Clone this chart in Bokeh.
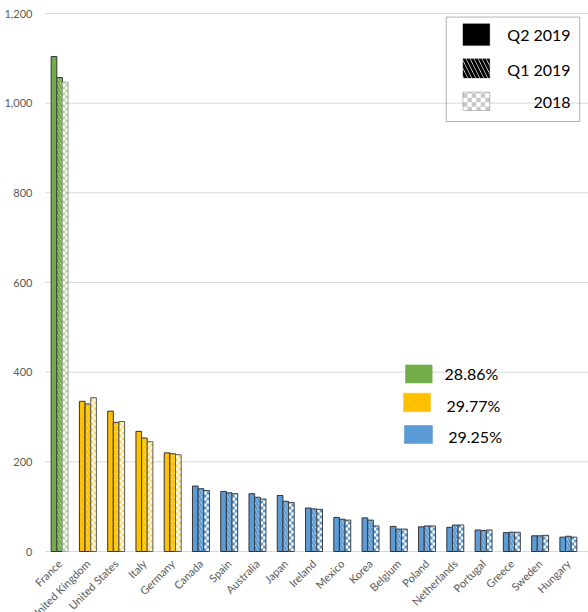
from bokeh.plotting import figure
from bokeh.models import (ColumnDataSource, FixedTicker, NumeralTickFormatter,
                          BoxAnnotation, Label, Range1d)
from bokeh.transform import dodge
from bokeh.embed import file_html
from bokeh.resources import INLINE
from math import pi

# ---------------- data ----------------
countries = ["France", "United Kingdom", "United States", "Italy", "Germany", "Canada",
             "Spain", "Australia", "Japan", "Ireland", "Mexico", "Korea", "Belgium",
             "Poland", "Netherlands", "Portugal", "Greece", "Sweden", "Hungary"]
q2_2019 = [1104, 335, 313, 268, 220, 146, 134, 129, 125, 97, 76, 75, 56, 55, 54, 48, 42, 35, 32]
q1_2019 = [1057, 329, 288, 253, 218, 140, 131, 121, 112, 95, 72, 70, 50, 57, 59, 47, 43, 35, 34]
y2018 = [1047, 343, 290, 245, 216, 136, 129, 117, 109, 94, 70, 57, 50, 57, 59, 48, 43, 36, 32]
tier = ["A", "B", "B", "B", "B", "C", "C", "C", "C", "C", "C", "C", "C", "C", "C", "C", "C", "C", "C"]
tier_names = ["A", "B", "C"]
tier_shares = ["28.86%", "29.77%", "29.25%"]
series_names = ["Q2 2019", "Q1 2019", "2018"]
y_ticks = [0, 200, 400, 600, 800, 1000, 1200]
y_max = 1200

# ---------------- styles / layout ----------------
tier_color = {"A": "#70AD47", "B": "#FFC000", "C": "#5B9BD5"}
tier_light = {"A": "#B4D69C", "B": "#FFD966", "C": "#5B9BD5"}
tier_edge18 = {"A": "#A6A6A6", "B": "#595959", "C": "#404040"}
FONT = "Lato"
GRAY = "#595959"
EDGE = "#333333"
GRID = "#D9D9D9"

WIDTH, HEIGHT = 588, 612
PAD_L, PAD_R, PAD_T, PAD_B = 45, 6, 13, 61      # plotting area inside the canvas
n = len(countries)
ppx = (WIDTH - PAD_L - PAD_R) / n               # pixels per category
ppy = (HEIGHT - PAD_T - PAD_B) / y_max          # pixels per value unit
x_lo, x_hi = -PAD_L / ppx, n + PAD_R / ppx
y_lo, y_hi = -PAD_B / ppy, y_max + PAD_T / ppy

centers = [i + 0.5 for i in range(n)]           # category slots on the x scale
src = ColumnDataSource(dict(
    xc=centers, country=countries, q2=q2_2019, q1=q1_2019, y18=y2018,
    col=[tier_color[t] for t in tier],
    light=[tier_light[t] for t in tier],
    edge18=[tier_edge18[t] for t in tier],
))

p = figure(x_range=Range1d(x_lo, x_hi), y_range=Range1d(y_lo, y_hi),
           width=WIDTH, height=HEIGHT, output_backend="svg", toolbar_location=None,
           min_border=0)
p.outline_line_color = None
p.background_fill_color = "white"

# grid lines (from the y tick list) spanning the plotting area only
p.ygrid.visible = False
p.xgrid.visible = False
p.segment(x0=0, x1=x_hi, y0=y_ticks, y1=y_ticks, line_color=GRID, line_width=1)

W = 0.2
# Q2 2019: solid
p.vbar(x=dodge("xc", -0.2), top="q2", width=W, source=src,
       fill_color="col", line_color=EDGE, line_width=1)
# Q1 2019: diagonal stripes
p.vbar(x=dodge("xc", 0.0), top="q1", width=W, source=src,
       fill_color="white", line_color=EDGE, line_width=1,
       hatch_pattern="\\", hatch_color="col", hatch_scale=6, hatch_weight=2.4)
# 2018: checker (two half columns with opposite phase)
p.vbar(x=dodge("xc", 0.15), top="y18", width=W / 2, source=src,
       fill_color="white", line_color=None,
       hatch_pattern="-", hatch_color="light", hatch_scale=6, hatch_weight=3)
p.vbar(x=dodge("xc", 0.25), top="y18", width=W / 2, source=src,
       fill_color="light", line_color=None,
       hatch_pattern="-", hatch_color="white", hatch_scale=6, hatch_weight=3)
p.vbar(x=dodge("xc", 0.2), top="y18", width=W, source=src,
       fill_color=None, line_color="edge18", line_width=1)

# y axis pinned at the left edge of the plotting area
p.yaxis.fixed_location = 0
p.yaxis.ticker = FixedTicker(ticks=y_ticks)
p.yaxis.formatter = NumeralTickFormatter(format="0,0")
p.yaxis.axis_line_color = None
p.yaxis.major_tick_line_color = None
p.yaxis.major_tick_out = 0
p.yaxis.major_tick_in = 0
p.yaxis.minor_tick_line_color = None
p.yaxis.major_label_standoff = 13

# x axis pinned at value 0, category names as tick labels
p.xaxis.fixed_location = 0
p.xaxis.ticker = FixedTicker(ticks=centers)
p.xaxis.major_label_overrides = {c: name for c, name in zip(centers, countries)}
p.xaxis.axis_line_color = None
p.xaxis.major_tick_line_color = None
p.xaxis.major_tick_out = 0
p.xaxis.major_tick_in = 0
p.xaxis.minor_tick_line_color = None
p.xaxis.major_label_orientation = pi / 4
p.xaxis.major_label_standoff = 10
for ax in (p.xaxis, p.yaxis):
    ax.major_label_text_font = FONT
    ax.major_label_text_font_size = "11px"
    ax.major_label_text_color = GRAY

# ---------------- series legend (top right) ----------------
p.add_layout(BoxAnnotation(left=14.18, right=18.90, top=1192, bottom=959,
                           fill_alpha=0, line_color="black", line_width=1, level="overlay"))
leg_rows = [(1177, 1128.5, 1153), (1099, 1056, 1074.5), (1024.5, 983.6, 1002)]
LX0, LX1 = 14.77, 15.72
p.add_layout(BoxAnnotation(left=LX0, right=LX1, top=leg_rows[0][0], bottom=leg_rows[0][1],
                           fill_color="black", fill_alpha=1, line_color="black", level="overlay"))
p.add_layout(BoxAnnotation(left=LX0, right=LX1, top=leg_rows[1][0], bottom=leg_rows[1][1],
                           fill_color="white", fill_alpha=1, line_color=EDGE, level="overlay",
                           hatch_pattern="\\", hatch_color="black", hatch_scale=8, hatch_weight=3))
ncol = 6
cw = (LX1 - LX0) / ncol
for k in range(ncol):
    odd = k % 2 == 1
    p.add_layout(BoxAnnotation(left=LX0 + k * cw, right=LX0 + (k + 1) * cw,
                               top=leg_rows[2][0], bottom=leg_rows[2][1],
                               fill_color="#C8C8C8" if odd else "white", fill_alpha=1,
                               line_color=None, level="overlay",
                               hatch_pattern="-", hatch_color="white" if odd else "#C8C8C8",
                               hatch_scale=9, hatch_weight=4.5))
p.add_layout(BoxAnnotation(left=LX0, right=LX1, top=leg_rows[2][0], bottom=leg_rows[2][1],
                           fill_alpha=0, line_color="#404040", level="overlay"))
for (top, bot, ymid), name in zip(leg_rows, series_names):
    p.add_layout(Label(x=18.58, y=ymid, text=name, text_align="right", text_baseline="middle",
                       text_font=FONT, text_font_size="16px", text_color="black"))

# ---------------- share legend ----------------
share_rows = [((12.74, 13.68), (416, 376), (14.12, 397.7)),
              ((12.67, 13.62), (353, 312), (14.19, 325.7)),
              ((12.70, 13.69), (281, 241), (14.25, 256.5))]
for (lr, tb, txy), tname, share in zip(share_rows, tier_names, tier_shares):
    p.add_layout(BoxAnnotation(left=lr[0], right=lr[1], top=tb[0], bottom=tb[1],
                               fill_color=tier_color[tname], fill_alpha=1,
                               line_color=tier_color[tname], line_alpha=0.6, level="overlay"))
    p.add_layout(Label(x=txy[0], y=txy[1], text=share, text_align="left", text_baseline="middle",
                       text_font=FONT, text_font_size="16px", text_color="black"))

open("out.html", "w").write(file_html(p, INLINE))
